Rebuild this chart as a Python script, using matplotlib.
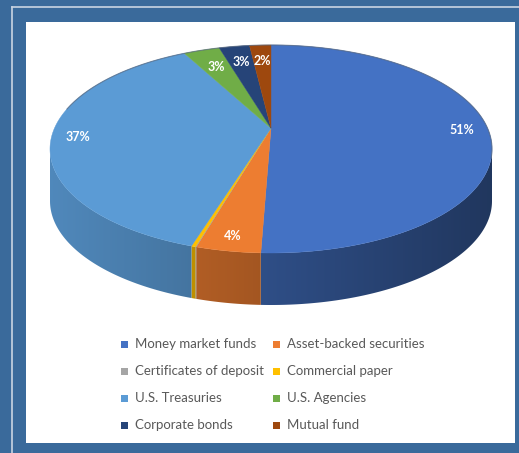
import numpy as np
import matplotlib
matplotlib.use("Agg")
import matplotlib.pyplot as plt
from matplotlib.patches import Polygon, Rectangle
from matplotlib.lines import Line2D
import matplotlib.colors as mcolors

# Portfolio composition (percent of total)
categories = ["Money market funds", "Asset-backed securities",
              "Certificates of deposit", "Commercial paper",
              "U.S. Treasuries", "U.S. Agencies",
              "Corporate bonds", "Mutual fund"]
values = [50.6, 3.9, 0.05, 0.25, 37.4, 3.2, 2.7, 1.9]
colors = ["#4472C4", "#ED7D31", "#A5A5A5", "#FFC000",
          "#5B9BD5", "#70AD47", "#264478", "#9E480E"]

W, H = 519, 453
fig = plt.figure(figsize=(W / 100, H / 100), dpi=100, facecolor="#3A6A9B")
ax = fig.add_axes([0, 0, 1, 1])
ax.axis("off")

# frame: light rule lines and white chart panel
ax.add_line(Line2D([12, W], [7, 7], color="#C9D4E2", lw=1.2, zorder=0.5))
ax.add_line(Line2D([12, 12], [7, H], color="#C9D4E2", lw=1.2, zorder=0.5))
ax.add_patch(Rectangle((26, 22), 489, 421, facecolor="white",
                       edgecolor="none", zorder=0.5))

# 3-D pie geometry (pixel space)
cy_top, cy_bot = 45, 253       # vertical extent of the top face
x_left, x_right = 50, 492      # horizontal extent of the top face
depth = 52
persp = 0.2
cx = 0.5 * (x_left + x_right)
rx = 0.5 * (x_right - x_left)


def raw(theta, r=1.0):
    t = np.radians(theta)
    u = r * np.sin(t)
    v = -r * np.cos(t)
    w = 1 - persp * v
    return u / w, v / w


_full = np.linspace(0, 360, 3601)
_X, _Y = raw(_full)
_xmin, _xmax, _ymin, _ymax = _X.min(), _X.max(), _Y.min(), _Y.max()
th_right = _full[np.argmax(_X)]
th_left = _full[np.argmin(_X)]


def proj(theta, r=1.0):
    X, Y = raw(theta, r)
    x = x_left + (X - _xmin) / (_xmax - _xmin) * (x_right - x_left)
    y = cy_top + (Y - _ymin) / (_ymax - _ymin) * (cy_bot - cy_top)
    return x, y


pcx, pcy = proj(0.0, 0.0)

total = sum(values)
bounds = np.concatenate([[0], np.cumsum(values) / total * 360])


def side_rgb(col, xs):
    s = (xs - cx) / rx
    lam = 0.68 - 0.2 * s
    base = np.array(mcolors.to_rgb(col))
    return np.clip(lam[:, None] * base[None, :], 0, 1)


# front side walls with left-to-right shading
for i, col in enumerate(colors):
    a0 = max(bounds[i], th_right)
    a1 = min(bounds[i + 1], th_left)
    if a1 <= a0:
        continue
    th = np.linspace(a0, a1, max(3, int((a1 - a0) * 3)))
    xs, ys = proj(th)
    pts = list(zip(xs, ys)) + list(zip(xs[::-1], ys[::-1] + depth))
    poly = Polygon(pts, closed=True, facecolor="none", edgecolor="none")
    ax.add_patch(poly)
    x0, x1 = xs.min() - 1, xs.max() + 1
    y0, y1 = ys.min() - 1, ys.max() + depth + 1
    gx = np.linspace(x0, x1, 200)
    img = np.repeat(side_rgb(col, gx)[None, :, :], 2, axis=0)
    im = ax.imshow(img, extent=(x0, x1, y1, y0), aspect="auto",
                   interpolation="bilinear", origin="upper", zorder=1)
    im.set_clip_path(poly)

# top faces
for i, col in enumerate(colors):
    a0, a1 = bounds[i], bounds[i + 1]
    th = np.linspace(a0, a1, max(2, int((a1 - a0) * 2) + 2))
    xs, ys = proj(th)
    pts = [(pcx, pcy)] + list(zip(xs, ys))
    ax.add_patch(Polygon(pts, closed=True, facecolor=col, edgecolor=col,
                         lw=0.3, zorder=2))

# faint outline along the back rim
th = np.linspace(th_right - 180, th_right + 5, 300)
xs, ys = proj(th)
ax.plot(xs, ys, color="#56677F", lw=0.8, alpha=0.7, zorder=3)

# data labels
label_r = [0.88, 0.9, None, None, 0.88, 0.76, 0.78, 0.78]
for i, v in enumerate(values):
    if label_r[i] is None:
        continue
    mid = 0.5 * (bounds[i] + bounds[i + 1])
    lx, ly = proj(mid, label_r[i])
    pct = round(v / total * 100)
    ax.text(lx, ly, f"{pct}%", color="white", fontsize=9, fontweight="bold",
            family="Lato", ha="center", va="center", zorder=4)

# legend, two columns
col_x = [124, 276]
row_y = [344, 371, 398, 425]
for i, (name, col) in enumerate(zip(categories, colors)):
    x = col_x[i % 2]
    y = row_y[i // 2]
    ax.add_patch(Rectangle((x - 3.5, y - 3.5), 7, 7, facecolor=col,
                           edgecolor="none", zorder=2))
    ax.text(x + 11, y, name, color="#595959", fontsize=9.5, family="Lato",
            ha="left", va="center", zorder=4)

ax.set_xlim(0, W)
ax.set_ylim(H, 0)
fig.savefig("out.png", dpi=100, facecolor=fig.get_facecolor())
